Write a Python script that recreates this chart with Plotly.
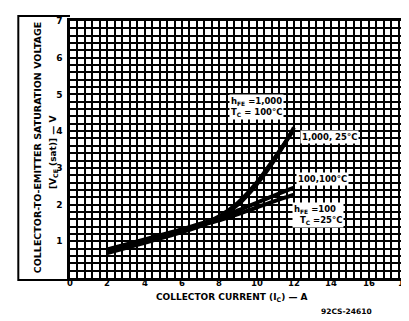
import plotly.graph_objects as go

# Collector current (A)
ic = [2, 4, 6, 7.5, 8, 9, 10, 11, 12]
# V_CE(sat) curves (V)
v_1000_25 = [0.72, 1.0, 1.3, 1.55, 1.66, 2.0, 2.55, 3.25, 4.1]
v_1000_100 = [0.78, 1.05, 1.33, 1.56, 1.68, 2.05, 2.6, 3.3, 4.05]
v_100_100 = [0.76, 1.02, 1.3, 1.52, 1.6, 1.84, 2.05, 2.26, 2.46]
v_100_25 = [0.68, 0.96, 1.25, 1.5, 1.57, 1.74, 1.92, 2.1, 2.27]

x_ticks = [0, 2, 4, 6, 8, 10, 12, 14, 16, 18]
y_ticks = [1, 2, 3, 4, 5, 6, 7]

FONT = "DejaVu Sans"

fig = go.Figure()
for ys in [v_1000_25, v_1000_100, v_100_100, v_100_25]:
    fig.add_trace(go.Scatter(x=ic, y=ys, mode="lines",
                             line=dict(color="black", width=4, shape="spline"),
                             showlegend=False, hoverinfo="skip"))

fig.update_layout(
    width=409, height=321,
    margin=dict(l=62, r=9, t=8, b=51),
    paper_bgcolor="white", plot_bgcolor="white",
    font=dict(family=FONT, color="black", size=9),
    showlegend=False,
)
fig.update_xaxes(
    range=[0, 18], tickvals=x_ticks, showticklabels=False,
    showgrid=True, gridcolor="black", gridwidth=2,
    minor=dict(dtick=0.4, showgrid=True, gridcolor="black", gridwidth=2),
    showline=True, linecolor="black", linewidth=2.5, mirror=True,
    zeroline=False, ticks="",
)
fig.update_yaxes(
    range=[0, 7], tickvals=y_ticks, ticktext=[f"<b>{v}</b>" for v in y_ticks],
    showgrid=True, gridcolor="black", gridwidth=2,
    minor=dict(dtick=0.2, showgrid=True, gridcolor="black", gridwidth=2),
    showline=True, linecolor="black", linewidth=2.5, mirror=True,
    zeroline=False, ticks="", ticklabelstandoff=3,
    tickfont=dict(size=9, family=FONT),
)

# Left title box
px_l = (10 - 62) / 338
fig.add_shape(type="path", xref="paper", yref="paper",
              path=f"M 0,1.019 L {px_l},1.019 L {px_l},-0.008 L 0,-0.008",
              line=dict(color="black", width=2))

ann = []
for v in x_ticks:
    ann.append(dict(x=v, y=(270 - 281) / 262, xref="x", yref="paper",
                    text=f"<b>{v}</b>", showarrow=False, font=dict(size=8.5),
                    borderpad=0, xshift=-2 if v == 18 else 0))
ann.append(dict(x=(22 - 62) / 338, y=(270 - 137) / 262, xref="paper", yref="paper",
                text="<b>COLLECTOR-TO-EMITTER SATURATION VOLTAGE</b>",
                textangle=-90, showarrow=False, font=dict(size=9.5)))
ann.append(dict(x=(38 - 62) / 338, y=(270 - 142) / 262, xref="paper", yref="paper",
                text="<b>[V<sub>CE</sub> (sat)] — V</b>",
                textangle=-90, showarrow=False, font=dict(size=9)))
ann.append(dict(x=(225 - 62) / 338, y=(270 - 296) / 262, xref="paper", yref="paper",
                text="<b>COLLECTOR CURRENT (I<sub>C</sub>) — A</b>",
                showarrow=False, font=dict(size=9), borderpad=0))
ann.append(dict(x=(368 - 62) / 338, y=(270 - 311) / 262, xref="paper", yref="paper",
                text="<b>92CS-24610</b>", showarrow=False, font=dict(size=7.5)))
# curve labels
ann.append(dict(x=8.5, y=4.65, xanchor="left", text="<b>h<sub>FE</sub> =1,000</b><br><b>T<sub>C</sub> = 100°C</b>",
                showarrow=False, bgcolor="white", align="left", font=dict(size=8.5)))
ann.append(dict(x=12.3, y=3.84, xanchor="left", text="<b>1,000, 25°C</b>",
                showarrow=False, bgcolor="white", font=dict(size=8.5)))
ann.append(dict(x=12.1, y=2.7, xanchor="left", text="<b>100,100°C</b>",
                showarrow=False, bgcolor="white", font=dict(size=8.5)))
ann.append(dict(x=11.9, y=1.72, xanchor="left", text="<b>h<sub>FE</sub> =100</b><br><b>  T<sub>C</sub> =25°C</b>",
                showarrow=False, bgcolor="white", align="left", font=dict(size=8.5)))
fig.update_layout(annotations=ann)

fig.write_html("out.html")
